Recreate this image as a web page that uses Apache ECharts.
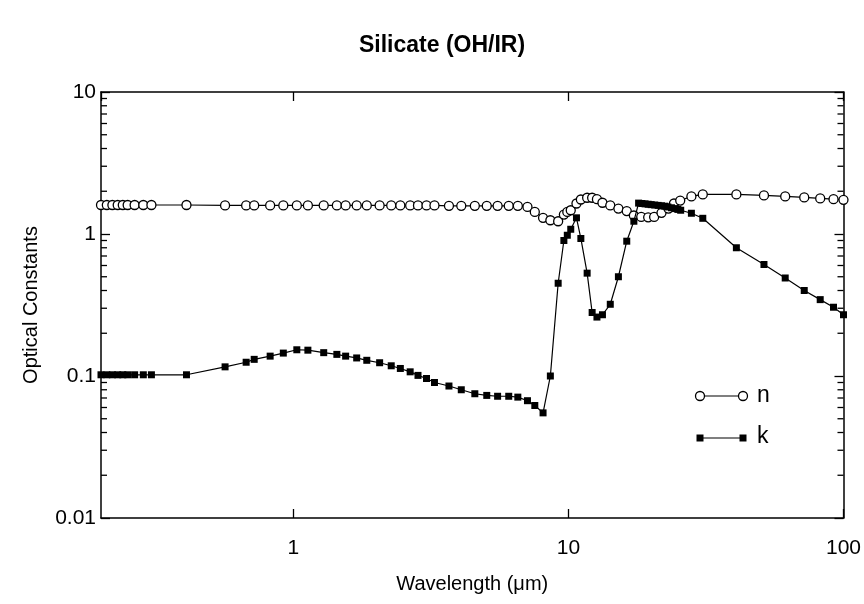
<!DOCTYPE html>
<html>
<head>
<meta charset="utf-8">
<title>Silicate (OH/IR)</title>
<script src="https://cdn.jsdelivr.net/npm/echarts@6/dist/echarts.min.js"></script>
<style>
  html, body { margin: 0; padding: 0; background: #fff; }
  #chart { width: 864px; height: 604px; }
</style>
</head>
<body>
<div id="chart"></div>
<script>
// wavelength grid (um) and optical constants
const nWavelength = [
  0.2, 0.21, 0.22, 0.23, 0.24, 0.25, 0.265, 0.285, 0.305, 0.409, 0.565, 0.674, 0.721, 0.824, 0.92,
  1.03, 1.13, 1.29, 1.44, 1.55, 1.70, 1.85, 2.06, 2.27, 2.45, 2.66, 2.84, 3.05, 3.26, 3.68, 4.08, 4.57, 5.05,
  5.53, 6.07, 6.55, 7.10, 7.55, 8.09, 8.6, 9.18, 9.63, 9.91, 10.2, 10.7, 11.1, 11.7, 12.2, 12.7, 13.3,
  14.2, 15.2, 16.3, 17.3, 18.4, 19.5, 20.5, 21.8, 23.1, 24.2, 25.5, 28, 30.8, 40.8, 51.4, 61.4, 72, 82.3, 92, 100
]
const nValues = [
  1.60, 1.60, 1.60, 1.60, 1.60, 1.60, 1.60, 1.60, 1.60, 1.60, 1.59, 1.59, 1.59, 1.59, 1.59,
  1.59, 1.59, 1.59, 1.59, 1.59, 1.59, 1.59, 1.59, 1.59, 1.59, 1.59, 1.59, 1.59, 1.59, 1.58, 1.58, 1.58, 1.58,
  1.58, 1.58, 1.58, 1.55, 1.43, 1.30, 1.25, 1.23, 1.37, 1.43, 1.47, 1.64, 1.75, 1.80, 1.80, 1.76, 1.66,
  1.59, 1.51, 1.45, 1.35, 1.32, 1.31, 1.32, 1.41, 1.51, 1.64, 1.72, 1.84, 1.90, 1.90, 1.87, 1.84, 1.81, 1.78, 1.76, 1.74
]
const kWavelength = [
  0.2, 0.21, 0.22, 0.23, 0.24, 0.25, 0.265, 0.285, 0.305, 0.409, 0.565, 0.674, 0.721, 0.824, 0.92,
  1.03, 1.13, 1.29, 1.44, 1.55, 1.70, 1.85, 2.06, 2.27, 2.45, 2.66, 2.84, 3.05, 3.26, 3.68, 4.08, 4.57, 5.05,
  5.53, 6.07, 6.55, 7.10, 7.55, 8.09, 8.6, 9.18, 9.63, 9.91, 10.2, 10.7, 11.1, 11.7, 12.2, 12.7, 13.3,
  14.2, 15.2, 16.3, 17.3, 18.0, 18.5, 19.0, 19.5, 20.0, 20.6, 21.2, 21.8, 22.4, 23.0, 23.7, 24.4, 25.0, 25.6,
  28, 30.8, 40.8, 51.4, 61.4, 72, 82.3, 92, 100
]
const kValues = [
  0.102, 0.102, 0.102, 0.102, 0.102, 0.102, 0.102, 0.102, 0.102, 0.102, 0.116, 0.125, 0.131, 0.138, 0.145,
  0.153, 0.152, 0.146, 0.142, 0.138, 0.134, 0.129, 0.124, 0.118, 0.113, 0.107, 0.101, 0.096, 0.090, 0.085, 0.080, 0.075, 0.073,
  0.072, 0.072, 0.071, 0.067, 0.062, 0.055, 0.10, 0.45, 0.90, 0.98, 1.08, 1.30, 0.93, 0.53, 0.28, 0.26, 0.27,
  0.32, 0.50, 0.89, 1.23, 1.65, 1.64, 1.63, 1.62, 1.61, 1.60, 1.59, 1.58, 1.57, 1.55, 1.53, 1.51, 1.49, 1.47,
  1.40, 1.29, 0.80, 0.61, 0.49, 0.40, 0.345, 0.305, 0.27
]

// minor ticks of the log y axis (2..9 in each decade)
const yMinorTicks = []
const decades = [0.01, 0.1, 1]
decades.forEach(d => {
  for (let m = 2; m <= 9; m++) {
    yMinorTicks.push(+(d * m).toPrecision(3))
  }
})

const X_MIN = 0.2
const X_MAX = 100
const FONT = '"Liberation Sans", Arial, sans-serif'
const AXIS_LINE = { show: true, lineStyle: { color: '#000', width: 1.5 } }
const MAJOR_TICK = { show: true, inside: true, length: 9, lineStyle: { color: '#000', width: 1.3 } }

// hand drawn legend: marker - line - marker, then the label
const legendGraphic = [
  { type: 'line', shape: { x1: 700, y1: 396, x2: 743, y2: 396 }, style: { stroke: '#000', lineWidth: 1.2 } },
  { type: 'circle', shape: { cx: 700, cy: 396, r: 4.5 }, style: { fill: '#fff', stroke: '#000', lineWidth: 1.3 } },
  { type: 'circle', shape: { cx: 743, cy: 396, r: 4.5 }, style: { fill: '#fff', stroke: '#000', lineWidth: 1.3 } },
  { type: 'text', x: 757, y: 396, style: { text: 'n', font: '23px ' + FONT, fill: '#000', verticalAlign: 'middle' } },
  { type: 'line', shape: { x1: 700, y1: 438, x2: 743, y2: 438 }, style: { stroke: '#000', lineWidth: 1.2 } },
  { type: 'rect', shape: { x: 696.5, y: 434.5, width: 7, height: 7 }, style: { fill: '#000' } },
  { type: 'rect', shape: { x: 739.5, y: 434.5, width: 7, height: 7 }, style: { fill: '#000' } },
  { type: 'text', x: 757, y: 437, style: { text: 'k', font: '23px ' + FONT, fill: '#000', verticalAlign: 'middle' } }
]

const chart = echarts.init(document.getElementById('chart'))

const option = {
  animation: false,
  backgroundColor: '#fff',
  title: {
    text: 'Silicate (OH/IR)',
    left: 354,
    top: 29,
    textStyle: { fontFamily: FONT, fontSize: 23, fontWeight: 'bold', color: '#000' }
  },
  grid: { left: 101, right: 20, top: 92, bottom: 86 },
  xAxis: [
    {
      type: 'log',
      logBase: 10,
      min: X_MIN,
      max: X_MAX,
      position: 'bottom',
      axisLine: AXIS_LINE,
      axisTick: MAJOR_TICK,
      splitLine: { show: false },
      axisLabel: {
        showMinLabel: false,
        margin: 20,
        fontFamily: FONT,
        fontSize: 21,
        color: '#000'
      },
      name: 'Wavelength (\u03bcm)',
      nameLocation: 'middle',
      nameGap: 56,
      nameTextStyle: { fontFamily: FONT, fontSize: 20, color: '#000' }
    },
    {
      type: 'log',
      logBase: 10,
      min: X_MIN,
      max: X_MAX,
      position: 'top',
      axisLine: AXIS_LINE,
      axisTick: MAJOR_TICK,
      splitLine: { show: false },
      axisLabel: { show: false }
    }
  ],
  yAxis: [
    {
      type: 'log',
      logBase: 10,
      min: 0.01,
      max: 10,
      position: 'left',
      axisLine: AXIS_LINE,
      axisTick: MAJOR_TICK,
      splitLine: { show: false },
      axisLabel: { margin: 5, fontFamily: FONT, fontSize: 21, color: '#000' },
      name: 'Optical Constants',
      nameLocation: 'middle',
      nameGap: 60,
      nameTextStyle: { fontFamily: FONT, fontSize: 20, color: '#000' }
    },
    {
      type: 'log',
      logBase: 10,
      min: 0.01,
      max: 10,
      position: 'right',
      axisLine: AXIS_LINE,
      axisTick: MAJOR_TICK,
      splitLine: { show: false },
      axisLabel: { show: false }
    }
  ],
  series: [
    {
      name: 'n',
      type: 'line',
      xAxisIndex: 0,
      yAxisIndex: 0,
      data: nWavelength.map((w, i) => [w, nValues[i]]),
      symbol: 'circle',
      symbolSize: 9,
      showSymbol: true,
      itemStyle: { color: '#fff', borderColor: '#000', borderWidth: 1.3 },
      lineStyle: { color: '#000', width: 1.2 },
      z: 3
    },
    {
      name: 'k',
      type: 'line',
      xAxisIndex: 0,
      yAxisIndex: 0,
      data: kWavelength.map((w, i) => [w, kValues[i]]),
      symbol: 'rect',
      symbolSize: 7,
      showSymbol: true,
      itemStyle: { color: '#000' },
      lineStyle: { color: '#000', width: 1.2 },
      z: 4
    }
  ],
  graphic: legendGraphic
}

chart.setOption(option)

// minor ticks on the left and right frame, placed through the axis scale
const minorTicks = []
yMinorTicks.forEach(v => {
  const left = chart.convertToPixel({ xAxisIndex: 0, yAxisIndex: 0 }, [X_MIN, v])
  const right = chart.convertToPixel({ xAxisIndex: 0, yAxisIndex: 0 }, [X_MAX, v])
  if (!left || !right) return
  minorTicks.push(
    { type: 'line', z: 10, shape: { x1: left[0], y1: left[1], x2: left[0] + 6, y2: left[1] }, style: { stroke: '#000', lineWidth: 1.3 } },
    { type: 'line', z: 10, shape: { x1: right[0] - 6, y1: right[1], x2: right[0], y2: right[1] }, style: { stroke: '#000', lineWidth: 1.3 } }
  )
})

chart.setOption({ graphic: legendGraphic.concat(minorTicks) })
</script>
</body>
</html>
